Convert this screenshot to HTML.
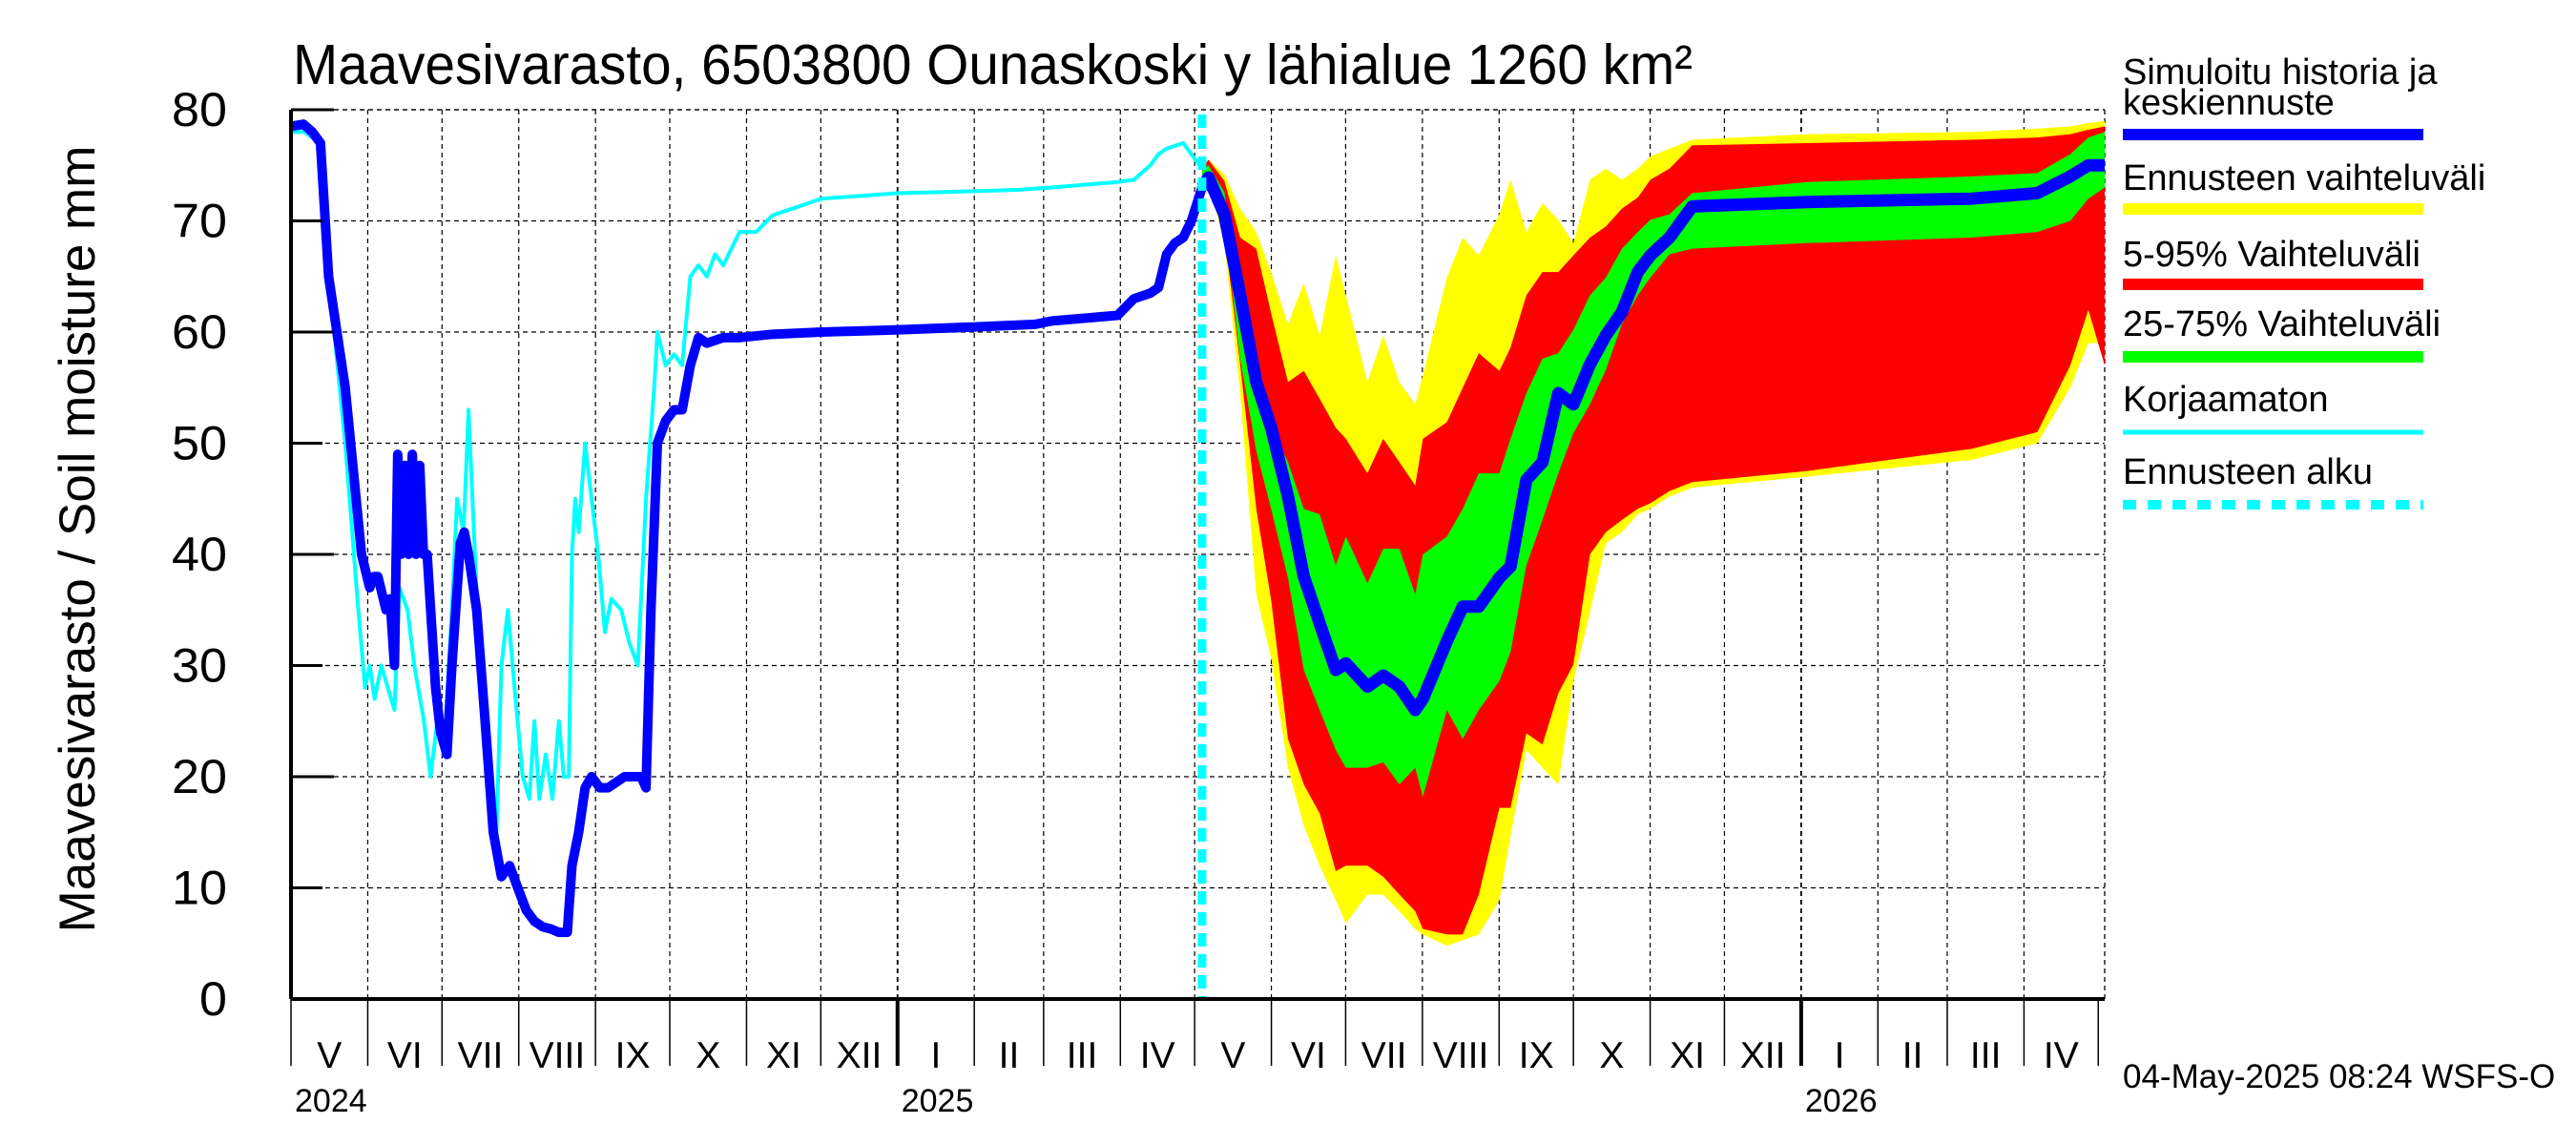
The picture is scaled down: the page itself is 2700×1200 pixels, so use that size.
<!DOCTYPE html>
<html><head><meta charset="utf-8"><style>
html,body{margin:0;padding:0;background:#fff;}
svg{display:block;font-family:"Liberation Sans",sans-serif;}
</style></head><body>
<svg id="chart" width="2700" height="1200" viewBox="0 0 2700 1200" xmlns="http://www.w3.org/2000/svg">
<rect width="2700" height="1200" fill="#fff"/>
<text x="307" y="88" font-size="59" textLength="1467" lengthAdjust="spacingAndGlyphs">Maavesivarasto, 6503800 Ounaskoski y lähialue 1260 km²</text>
<text transform="translate(99,565) rotate(-90)" text-anchor="middle" font-size="53">Maavesivarasto / Soil moisture   mm</text>
<g id="grid"></g><g id="bands"></g><g id="lines"></g><g id="axes"></g><g id="legend"></g>
<text x="2225" y="1140" font-size="35">04-May-2025 08:24 WSFS-O</text>
</svg>
<script>
const NS="http://www.w3.org/2000/svg";
// ---- data (x = days since 2024-05-01, y = mm) ----
const yTicks=[0,10,20,30,40,50,60,70,80];
const monthLabels=["V","VI","VII","VIII","IX","X","XI","XII","I","II","III","IV","V","VI","VII","VIII","IX","X","XI","XII","I","II","III","IV"];
const monthStarts=[0,31,61,92,123,153,184,214,245,276,304,335,365,396,426,457,488,518,549,579,610,641,669,700,730];
const yearLabels=["2024","2025","2026"];
const yearDays=[0,245,610];
const forecastStartDay=368;
const histDays=[0,5,8.6,11.9,15.2,21.9,28.5,31.8,33.5,35.1,38.4,40,41.8,43.1,44.5,46,47.5,49,50.5,52,53.5,55,58.4,60.4,63,65,68.4,70,71.7,75,78.4,81.7,85,88.3,91.6,95,98.3,101.6,105,108.2,111.6,113.5,116.2,118.8,121.4,124.8,128.1,134.7,141.4,143.4,145.4,148,151.3,154.7,158,161.3,164.6,168,174.6,181.2,194.5,214.4,245.6,280.8,300.7,307.3,333.9,340.5,347.1,350.4,353.7,357,360.4,363.7,368];
const histVals=[78.5,78.7,78,77,65,55,40,37,38,38,35,36,30,49,40,48,40,49,40,48,40,40,28,24,22,30,41,42,40,35,25,15,11,12,10,8,7,6.5,6.3,6,6,12,15,19,20,19,19,20,20,19,35,50,52,53,53,57,59.5,59,59.5,59.5,59.8,60,60.2,60.5,60.7,61,61.5,63,63.5,64,67,68,68.5,70,73];
const rawDays=[0,5.3,11.9,15.2,21.9,27.2,29.9,31.8,33.8,36.5,39.1,41.8,43.8,47.1,49.8,53.7,56.4,59.1,61.7,65,67.1,69.7,71.7,73.7,76.3,79,83,85,87.6,90.3,93.6,96.3,98.3,100.3,102.9,105.6,108.2,110.2,112.2,113.5,114.8,116.2,118.8,121.4,124.1,126.8,129.4,133.4,136.7,140.1,143.4,146.7,148,151.3,154.7,158,161.3,164.6,168,171.3,174.6,181.2,187.9,194.5,207.8,214.4,245.6,280.8,294,307.3,333.9,340.5,347.1,350.4,353.7,360.4,363.7,367];
const rawVals=[78,78,77,65,50,35,28,30,27,30,28,26,37,35,30,25,20,25,22,35,45,42,53,43,30,20,15,30,35,28,20,18,25,18,22,18,25,20,20,40,45,42,50,45,40,33,36,35,32,30,45,55,60,57,58,57,65,66,65,67,66,69,69,70.5,71.5,72,72.5,72.7,72.8,73,73.5,73.7,75,76,76.5,77,76,75,68];
const fcDays=[368,370.6,377,383.4,389.9,395.9,402.7,409.1,415.5,422,426.1,434.8,441.2,447.7,454.1,457.2,466.9,473.3,479.8,488.1,492.6,499,505.5,511.9,518,524.7,531.1,537.6,544,549.1,556.8,566,612.5,678.9,705.4,718.7,726,732.6];
const fcMax=[74.7,75.5,74.2,71.1,69.0,65.4,60.7,64.4,59.7,66.9,63.3,55.5,59.7,55.5,53.5,56.1,64.9,68.5,66.9,70.6,73.7,69.0,71.6,70.1,68.0,73.7,74.7,73.7,74.7,75.8,76.5,77.3,77.8,78,78.3,78.5,78.8,79];
const fcP95=[74.7,75.5,73.6,68.5,67.5,61.7,55.5,56.5,54.0,51.4,50.4,47.3,50.4,48.3,46.2,50.4,51.9,55.0,58.1,56.5,58.6,63.3,65.4,65.4,66.9,68.5,69.5,71.1,72.1,73.7,74.7,76.8,77,77.3,77.5,77.8,78.2,78.5];
const fcP75=[74.5,75.0,72.6,63.3,56.1,51.4,48.3,44.1,43.6,39.0,41.6,37.4,40.5,40.5,36.4,40.0,41.6,44.1,47.3,47.3,50.4,54.5,57.6,58.1,60.2,63.3,64.9,67.5,69.0,70.1,70.6,72.5,73.5,74,74.3,76,77.5,78];
const fcMed=[73,73.9,70.6,63.3,55.5,51.4,45.2,38.0,33.8,29.6,30.2,28.1,29.1,28.1,26.0,27.0,32.2,35.3,35.3,37.9,38.9,46.7,48.3,54.5,53.5,57.1,59.7,61.8,65.4,66.9,68.5,71.3,71.7,72,72.5,74,75,75];
const fcP25=[73.7,73.9,70.1,57.6,49.3,44.1,37.9,29.6,26.0,22.4,20.8,20.8,21.3,19.3,20.8,18.2,26.0,23.4,26.0,28.6,31.2,39.0,43.1,47.3,50.9,53.5,56.6,60.7,63.3,64.9,67.0,67.5,68,68.5,69,70,72,73];
const fcP05=[73.2,73.7,69.0,57.1,44.1,35.9,23.4,19.3,16.7,11.5,12.0,12.0,11.0,9.4,7.9,6.3,5.8,5.8,9.4,17.2,17.2,23.9,22.9,27.5,30.1,40.0,42.0,43.1,44.1,44.6,45.7,46.5,47.5,49.5,51,57,62,57];
const fcMin=[72.9,73.4,68.0,54.5,36.4,30.7,20.8,15.6,12.0,8.9,6.8,9.4,9.4,7.9,6.3,5.8,4.8,5.3,5.8,8.9,14.6,22.4,20.8,19.3,28.6,34.8,41.0,42.0,43.6,44.1,45.2,46,47,48.5,50,55,59,59];
// ---- axes ----
const X0=305,X1=2206,Y0=1047,Y1=115,DMAX=732.6;
const xs=d=>X0+d*(X1-X0)/DMAX;
const ys=v=>Y0-v*(Y0-Y1)/80;
function el(tag,attrs,parent){const e=document.createElementNS(NS,tag);for(const k in attrs)e.setAttribute(k,attrs[k]);parent.appendChild(e);return e;}
const grid=document.getElementById('grid'),bands=document.getElementById('bands'),lines=document.getElementById('lines'),axes=document.getElementById('axes'),legend=document.getElementById('legend');
yTicks.forEach(v=>{
  if(v>0){const g=el('line',{x1:X0,x2:X1,y1:ys(v),y2:ys(v),stroke:'#000','stroke-width':1.3,'stroke-dasharray':'5,4'},grid);
  
  }
  const t=el('line',{x1:X0,x2:X0+(v%20==0?45:33),y1:ys(v),y2:ys(v),stroke:'#000','stroke-width':3},axes);
  
  
  const l=el('text',{x:238,y:ys(v)+17,'text-anchor':'end','font-size':50,textLength:(v<10?29:58),lengthAdjust:'spacingAndGlyphs'},axes);
  l.textContent=v;
  
  
});
monthStarts.forEach((d,i)=>{
  const x=xs(d);
  if(i>0&&i<monthStarts.length-1){const g=el('line',{x1:x,x2:x,y1:Y1,y2:Y0,stroke:'#000','stroke-width':yearDays.includes(d)?1.8:1.2,'stroke-dasharray':'5,4'},grid);
  
  }
  const t=el('line',{x1:x,x2:x,y1:Y0,y2:1117,stroke:'#000','stroke-width':yearDays.includes(d)&&d>0?4:1.5},axes);
  
  
  if(i<monthLabels.length){
    const x2=xs(Math.min(monthStarts[i+1],DMAX));
    const l=el('text',{x:(x+x2)/2,y:1119,'text-anchor':'middle','font-size':39},axes);
    l.textContent=monthLabels[i];
    
    
  }
});
yearLabels.forEach((y,i)=>{
  const l=el('text',{x:xs(yearDays[i])+4,y:1165,'font-size':34},axes);
  l.textContent=y;
  
  
});
const tb=el('line',{x1:X0,x2:X1,y1:Y1,y2:Y1,stroke:'#000','stroke-width':1.3,'stroke-dasharray':'5,4'},grid);


const rb=el('line',{x1:X1,x2:X1,y1:Y1,y2:Y0,stroke:'#000','stroke-width':1.3,'stroke-dasharray':'5,4'},grid);


// ---- bands ----
function band(up,lo,color,name){
  let p=fcDays.map((d,i)=>xs(d)+','+ys(up[i])).join(' ')+' '+fcDays.slice().reverse().map((d,j)=>{const i=fcDays.length-1-j;return xs(d)+','+ys(lo[i]);}).join(' ');
  const e=el('polygon',{points:p,fill:color},bands);
  
  
}
band(fcMax,fcMin,'#ffff00','forecast-range-band');
band(fcP95,fcP05,'#ff0000','band-5-95');
band(fcP75,fcP25,'#00ff00','band-25-75');
function line(days,vals,color,w,name){
  const e=el('polyline',{points:days.map((d,i)=>xs(d)+','+ys(vals[i])).join(' '),fill:'none',stroke:color,'stroke-width':w,'stroke-linejoin':'round'},lines);
  
  
}
line(rawDays,rawVals,'#00ffff',4,'uncorrected-line');
line(histDays,histVals,'#0000ff',10,'simulated-history-line');
line(fcDays,fcMed,'#0000ff',13,'forecast-median-line');
const fs=el('line',{x1:xs(forecastStartDay),x2:xs(forecastStartDay),y1:Y1+5,y2:Y0,stroke:'#00ffff','stroke-width':9,'stroke-dasharray':'14,8'},lines);


const la=el('line',{x1:X0,x2:X0,y1:Y1,y2:Y0,stroke:'#000','stroke-width':4},axes);


const ba=el('line',{x1:X0,x2:X1,y1:Y0,y2:Y0,stroke:'#000','stroke-width':4},axes);


// ---- legend ----
const legTexts=[["Simuloitu historia ja","keskiennuste"],["Ennusteen vaihteluväli"],["5-95% Vaihteluväli"],["25-75% Vaihteluväli"],["Korjaamaton"],["Ennusteen alku"]];
const legColors=['#0000ff','#ffff00','#ff0000','#00ff00','#00ffff','#00ffff'];
const legWidths=[12,12,12,12,5,10];
const legTextY=[[88,120],[199],[279],[352],[431],[507]];
const legLineY=[141,219,298,374,453,529];
legTexts.forEach((ts,i)=>{
  ts.forEach((t,k)=>{const e=el('text',{x:2225,y:legTextY[i][k],'font-size':38},legend);e.textContent=t;
  
  });
  const a={x1:2225,x2:2540,y1:legLineY[i],y2:legLineY[i],stroke:legColors[i],'stroke-width':legWidths[i]};
  if(i==5)a['stroke-dasharray']='14,12';
  const e=el('line',a,legend);
  
  
});
</script>
</body></html>
